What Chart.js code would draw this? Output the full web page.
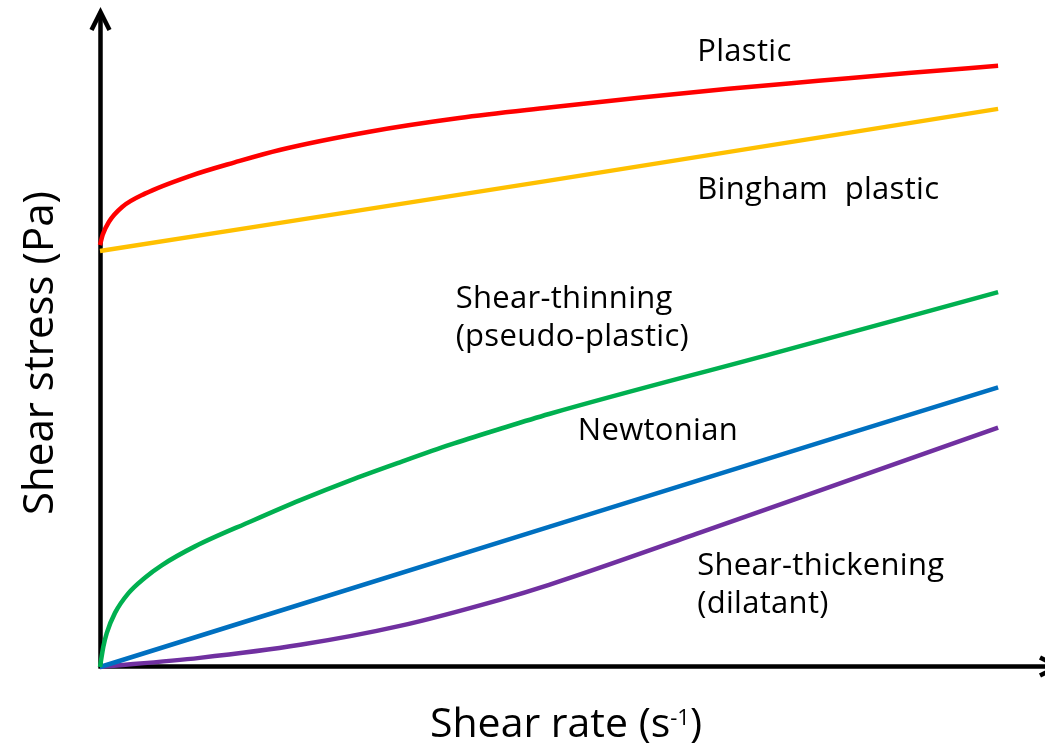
<!DOCTYPE html>
<html lang="en">

<head>
    <meta charset="UTF-8">
    <title>Shear stress vs shear rate</title>
    <style>
        html, body {
            margin: 0;
            padding: 0;
            background: #ffffff;
        }

        .wrap {
            width: 1045px;
            height: 747px;
        }
    </style>
</head>

<body>
    <div class="wrap">
        <canvas id="myChart" width="1045" height="747"></canvas>
    </div>

    <script src="https://cdn.jsdelivr.net/npm/chart.js"></script>

    <script>
        // values (shear rate on x, shear stress on y, arbitrary units)
        const plasticRate = [0, 0.03, 0.1, 0.25, 0.5, 1, 1.5, 2, 3, 4, 5, 6, 7, 8, 9, 10];
        const plasticStress = [6.47, 6.63, 6.83, 7.06, 7.26, 7.53, 7.74, 7.93, 8.21, 8.42, 8.58, 8.73, 8.87, 8.99, 9.11, 9.22];

        const binghamRate = [0, 5, 10];
        const binghamStress = [6.38, 7.46, 8.56];

        const thinningRate = [0, 0.037, 0.075, 0.167, 0.315, 0.5, 0.687, 1.058, 1.69, 2.23, 2.78, 3.34, 3.9, 4.45, 5, 7.5, 10];
        const thinningStress = [0, 0.31, 0.52, 0.83, 1.13, 1.37, 1.56, 1.85, 2.24, 2.56, 2.86, 3.14, 3.41, 3.65, 3.88, 4.81, 5.75];

        const newtonianRate = [0, 5, 10];
        const newtonianStress = [0, 2.15, 4.29];

        const thickeningRate = [0, 1.11, 2.23, 3.34, 4.45, 5, 6.68, 8.35, 10];
        const thickeningStress = [0, 0.14, 0.34, 0.63, 1.03, 1.26, 2.06, 2.87, 3.67];

        // curve labels: text, anchor (left, baseline) in chart units
        const curveLabels = [
            ['Plastic', 6.65, 9.29],
            ['Bingham  plastic', 6.65, 7.18],
            ['Shear-thinning', 3.96, 5.51],
            ['(pseudo-plastic)', 3.96, 4.92],
            ['Newtonian', 5.32, 3.48],
            ['Shear-thickening', 6.65, 1.41],
            ['(dilatant)', 6.65, 0.83]
        ];

        function pts(xs, ys) {
            return xs.map((x, i) => ({ x: x, y: ys[i] }));
        }

        function line(label, xs, ys, color) {
            return {
                label: label,
                data: pts(xs, ys),
                borderColor: color,
                backgroundColor: color,
                borderWidth: 4.5,
                pointRadius: 0,
                showLine: true,
                fill: false,
                clip: false,
                cubicInterpolationMode: 'monotone'
            };
        }

        const FONT = '"Open Sans", "Noto Sans", sans-serif';

        // axes with arrow heads, drawn under the curves
        const axesPlugin = {
            id: 'arrowAxes',
            beforeDatasetsDraw(chart) {
                const { ctx, chartArea: a } = chart;
                const x0 = a.left + 0.5;
                const y0 = a.bottom - 0.5;
                ctx.save();
                ctx.strokeStyle = '#000';
                ctx.lineWidth = 4.5;
                ctx.lineCap = 'butt';
                ctx.lineJoin = 'miter';
                ctx.beginPath();
                ctx.moveTo(x0, y0 + 2);
                ctx.lineTo(x0, 12);
                ctx.moveTo(x0 - 2, y0);
                ctx.lineTo(1058, y0);
                ctx.stroke();
                // heads
                ctx.beginPath();
                ctx.moveTo(x0 - 9, 30);
                ctx.lineTo(x0, 12);
                ctx.lineTo(x0 + 9, 30);
                ctx.moveTo(1040, y0 - 9);
                ctx.lineTo(1058, y0);
                ctx.lineTo(1040, y0 + 9);
                ctx.stroke();
                ctx.restore();
            },
            afterDraw(chart) {
                const { ctx, scales } = chart;
                ctx.save();
                ctx.fillStyle = '#000';
                ctx.textBaseline = 'alphabetic';

                // curve labels
                ctx.font = '31px ' + FONT;
                ctx.letterSpacing = '0.3px';
                ctx.textAlign = 'left';
                curveLabels.forEach(l => {
                    ctx.fillText(l[0], scales.x.getPixelForValue(l[1]), scales.y.getPixelForValue(l[2]));
                });
                ctx.letterSpacing = '0px';

                // x axis title with superscript
                const main = 'Shear rate (s';
                const sup = '-1';
                const tail = ')';
                ctx.font = '41px ' + FONT;
                const wMain = ctx.measureText(main).width;
                const wTail = ctx.measureText(tail).width;
                ctx.font = '22px ' + FONT;
                const wSup = ctx.measureText(sup).width;
                let tx = 566 - (wMain + wSup + wTail) / 2;
                const by = 737;
                ctx.font = '41px ' + FONT;
                ctx.fillText(main, tx, by);
                tx += wMain;
                ctx.font = '22px ' + FONT;
                ctx.fillText(sup, tx, by - 12);
                tx += wSup;
                ctx.font = '41px ' + FONT;
                ctx.fillText(tail, tx, by);

                // y axis title
                ctx.translate(53, 353);
                ctx.rotate(-Math.PI / 2);
                ctx.textAlign = 'center';
                ctx.font = '42px ' + FONT;
                ctx.fillText('Shear stress (Pa)', 0, 0);
                ctx.restore();
            }
        };

        const config = {
            type: 'scatter',
            data: {
                datasets: [
                    line('Plastic', plasticRate, plasticStress, '#ff0000'),
                    line('Bingham plastic', binghamRate, binghamStress, '#ffc000'),
                    line('Shear-thinning', thinningRate, thinningStress, '#00b050'),
                    line('Newtonian', newtonianRate, newtonianStress, '#0070c0'),
                    line('Shear-thickening', thickeningRate, thickeningStress, '#7030a0')
                ]
            },
            options: {
                responsive: false,
                animation: false,
                layout: {
                    padding: { left: 100, right: 2, top: 15, bottom: 80 }
                },
                scales: {
                    x: { type: 'linear', min: 0, max: 10.5, display: false },
                    y: { type: 'linear', min: 0, max: 10, display: false }
                },
                plugins: {
                    legend: { display: false },
                    tooltip: { enabled: false }
                }
            },
            plugins: [axesPlugin]
        };

        const myChart = new Chart(document.getElementById('myChart'), config);
    </script>
</body>

</html>
